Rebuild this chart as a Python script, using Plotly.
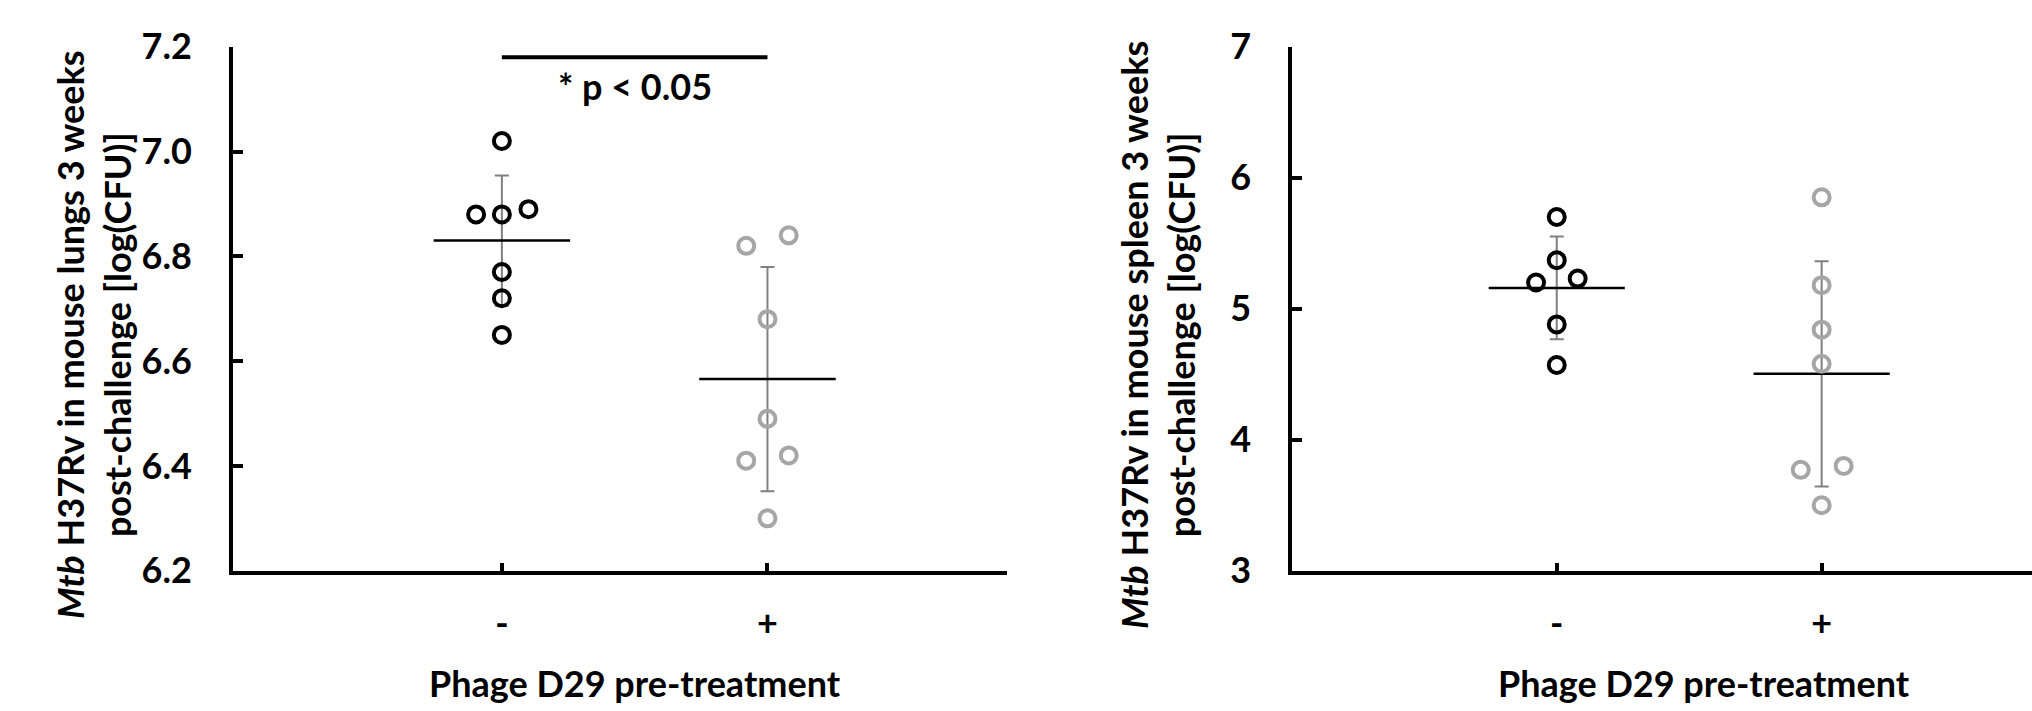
import numpy as np
import plotly.graph_objects as go

# ---------------- data ----------------
categories = ["-", "+"]

lung_minus = [7.02, 6.88, 6.88, 6.89, 6.77, 6.72, 6.65]
lung_minus_jitter = [0.0, -0.097, 0.0, 0.10, 0.0, 0.0, 0.0]
lung_plus = [6.82, 6.84, 6.68, 6.49, 6.41, 6.42, 6.30]
lung_plus_jitter = [-0.08, 0.08, 0.0, 0.0, -0.08, 0.08, 0.0]

spleen_minus = [5.70, 5.37, 5.20, 5.23, 4.88, 4.57]
spleen_minus_jitter = [0.0, 0.0, -0.078, 0.079, 0.0, 0.0]
spleen_plus = [5.85, 5.18, 4.84, 4.58, 3.77, 3.80, 3.50]
spleen_plus_jitter = [0.0, 0.0, 0.0, 0.0, -0.079, 0.083, 0.0]

lung_ticks = [6.2, 6.4, 6.6, 6.8, 7.0, 7.2]
spleen_ticks = [3, 4, 5, 6, 7]

sig_y = 7.18
sig_text_y = 7.125
sig_label = "* p < 0.05"

# ---------------- style ----------------
FONT = "Lato"
BLACK = "#000000"
GREY_PT = "#A6A6A6"
GREY_ERR = "#808080"
MEAN_HALF = 0.257

fig = go.Figure()


def add_group(xref, yref, xpos, vals, jitter, color):
    vals = np.array(vals)
    mean = vals.mean()
    sd = vals.std(ddof=1)
    # error bar (mean +/- SD)
    fig.add_trace(go.Scatter(
        x=[xpos], y=[mean], mode="markers",
        marker=dict(size=1, color="rgba(0,0,0,0)"),
        error_y=dict(type="data", array=[sd], visible=True,
                     color=GREY_ERR, thickness=2, width=7),
        xaxis=xref, yaxis=yref, showlegend=False, hoverinfo="skip"))
    # mean line
    fig.add_trace(go.Scatter(
        x=[xpos - MEAN_HALF, xpos + MEAN_HALF], y=[mean, mean], mode="lines",
        line=dict(color=BLACK, width=2.5),
        xaxis=xref, yaxis=yref, showlegend=False, hoverinfo="skip"))
    # points
    fig.add_trace(go.Scatter(
        x=[xpos + j for j in jitter], y=vals, mode="markers",
        marker=dict(symbol="circle-open", size=16, color=color,
                    line=dict(color=color, width=4)),
        xaxis=xref, yaxis=yref, showlegend=False, cliponaxis=False))


add_group("x", "y", 0, lung_minus, lung_minus_jitter, BLACK)
add_group("x", "y", 1, lung_plus, lung_plus_jitter, GREY_PT)
add_group("x2", "y2", 0, spleen_minus, spleen_minus_jitter, BLACK)
add_group("x2", "y2", 1, spleen_plus, spleen_plus_jitter, GREY_PT)

# significance bar
fig.add_trace(go.Scatter(
    x=[0, 1], y=[sig_y, sig_y], mode="lines",
    line=dict(color=BLACK, width=4), xaxis="x", yaxis="y",
    showlegend=False, hoverinfo="skip", cliponaxis=False))

tickfont = dict(family=FONT, size=36, color=BLACK, weight="bold")

x_common = dict(
    tickmode="array", tickvals=[0, 1], ticktext=categories,
    showline=True, linecolor=BLACK, linewidth=4,
    ticks="inside", ticklen=8, tickwidth=4, tickcolor=BLACK,
    tickfont=tickfont, ticklabelstandoff=18, automargin=False,
    showgrid=False, zeroline=False, fixedrange=True,
)
y_common = dict(
    showline=True, linecolor=BLACK, linewidth=4,
    ticks="inside", ticklen=10, tickwidth=4, tickcolor=BLACK,
    tickfont=tickfont, ticklabelstandoff=30, automargin=False,
    showgrid=False, zeroline=False, fixedrange=True,
)

fig.update_layout(
    width=2032, height=711,
    margin=dict(l=0, r=0, t=0, b=0, autoexpand=False),
    paper_bgcolor="white", plot_bgcolor="white",
    showlegend=False,
    xaxis=dict(domain=[0.1147, 0.4956], range=[-1.012, 1.902], anchor="y", **x_common),
    yaxis=dict(domain=[0.1973, 0.9343], range=[6.2, 7.2], anchor="x",
               tickvals=lung_ticks, tickformat=".1f", **y_common),
    xaxis2=dict(domain=[0.636, 1.0], range=[-0.998, 1.794], anchor="y2", **x_common),
    yaxis2=dict(domain=[0.1973, 0.9343], range=[3, 7], anchor="x2",
                tickvals=spleen_ticks, **y_common),
)

title_font = dict(family=FONT, size=36, color=BLACK, weight="bold")

annotations = [
    dict(text=sig_label, x=0.5, y=sig_text_y, xref="x", yref="y",
         showarrow=False, font=title_font, xanchor="center", yanchor="middle"),
    dict(text="Phage D29 pre-treatment", x=635 / 2032, y=1 - 683 / 711,
         xref="paper", yref="paper", showarrow=False, font=title_font,
         xanchor="center", yanchor="middle"),
    dict(text="Phage D29 pre-treatment", x=1704 / 2032, y=1 - 683 / 711,
         xref="paper", yref="paper", showarrow=False, font=title_font,
         xanchor="center", yanchor="middle"),
    dict(text="<i>Mtb</i> H37Rv in mouse lungs 3 weeks<br>post-challenge [log(CFU)]",
         x=94 / 2032, y=1 - 335 / 711, xref="paper", yref="paper",
         showarrow=False, font=title_font, textangle=-90,
         xanchor="center", yanchor="middle", align="center"),
    dict(text="<i>Mtb</i> H37Rv in mouse spleen 3 weeks<br>post-challenge [log(CFU)]",
         x=1158 / 2032, y=1 - 335 / 711, xref="paper", yref="paper",
         showarrow=False, font=title_font, textangle=-90,
         xanchor="center", yanchor="middle", align="center"),
]
fig.update_layout(annotations=annotations)

fig.write_html(
    "out.html",
    config={"displayModeBar": False},
    post_script="document.body.style.margin='0';document.body.style.overflow='hidden';",
)
